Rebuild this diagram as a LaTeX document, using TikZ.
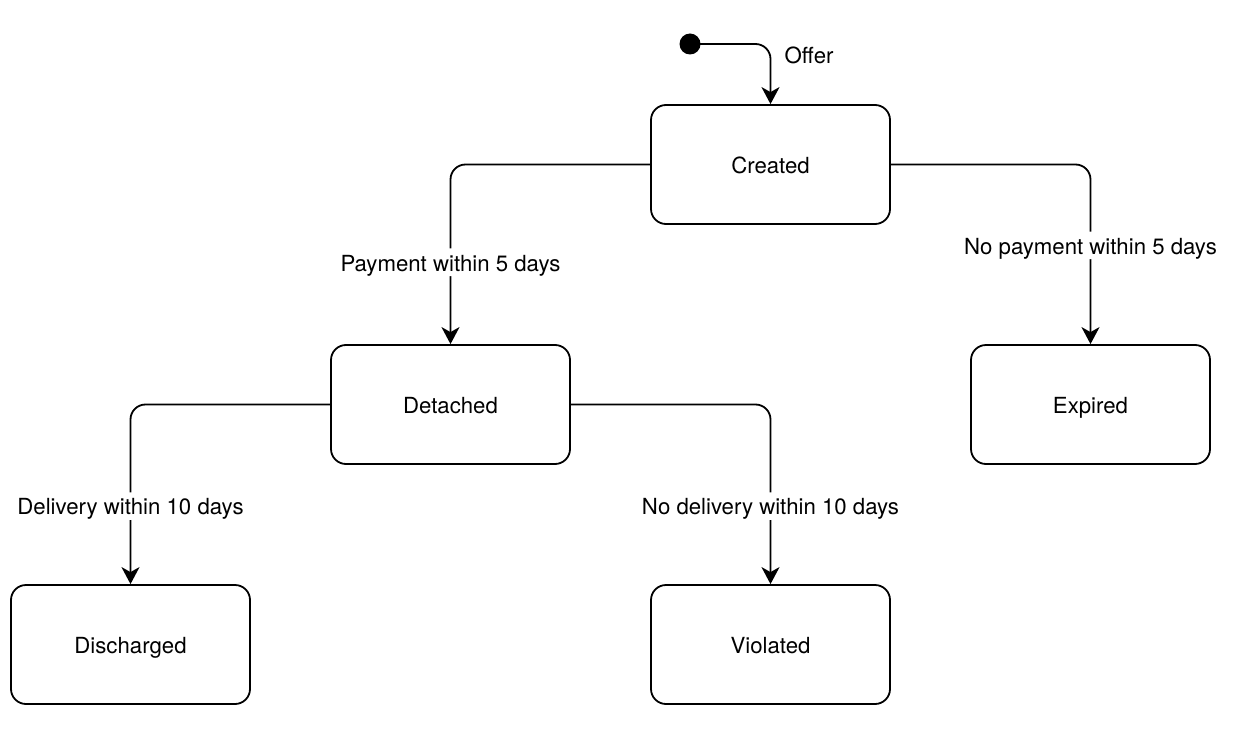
\documentclass[tikz,border=0pt]{standalone}
\usepackage{fontspec}
\setmainfont{TeX Gyre Heros}
\usetikzlibrary{arrows.meta}
\begin{document}
\begin{tikzpicture}[x=1pt,y=-1pt,
  state/.style={draw=black,line width=1.8pt,rounded corners=15pt,minimum width=239pt,minimum height=119pt,inner sep=0pt,font=\fontsize{22.2}{26}\selectfont,text height=21.1pt,text depth=3.5pt,fill=white},
  trans/.style={draw=black,line width=1.8pt,rounded corners=15pt,-{Stealth[length=17pt,width=18pt,inset=5pt]}},
  lbl/.style={fill=white,inner sep=1.5pt,font=\fontsize{22.2}{26}\selectfont,text height=21.1pt,text depth=3.5pt}]
\useasboundingbox (0,0) rectangle (1236,746);
\node[state] (created) at (770.5,164.5) {Created};
\node[state] (detached) at (450.5,404.5) {Detached};
\node[state] (expired) at (1090.5,404.5) {Expired};
\node[state] (discharged) at (130.5,644.5) {Discharged};
\node[state] (violated) at (770.5,644.5) {Violated};
\node[circle,fill=black,inner sep=0pt,minimum size=21pt] (init) at (690,44) {};
\draw[trans] (init.center) -| (created.north);
\node[lbl,anchor=west] (offer) at (783,55) {Offer};
\draw[trans] (created.west) -| node[lbl,pos=0.772] {Payment within 5 days} (detached.north);
\draw[trans] (created.east) -| node[lbl,pos=0.725] {No payment within 5 days} (expired.north);
\draw[trans] (detached.west) -| node[lbl,pos=0.783] {Delivery within 10 days} (discharged.north);
\draw[trans] (detached.east) -| node[lbl,pos=0.783] {No delivery within 10 days} (violated.north);
\end{tikzpicture}
\end{document}
